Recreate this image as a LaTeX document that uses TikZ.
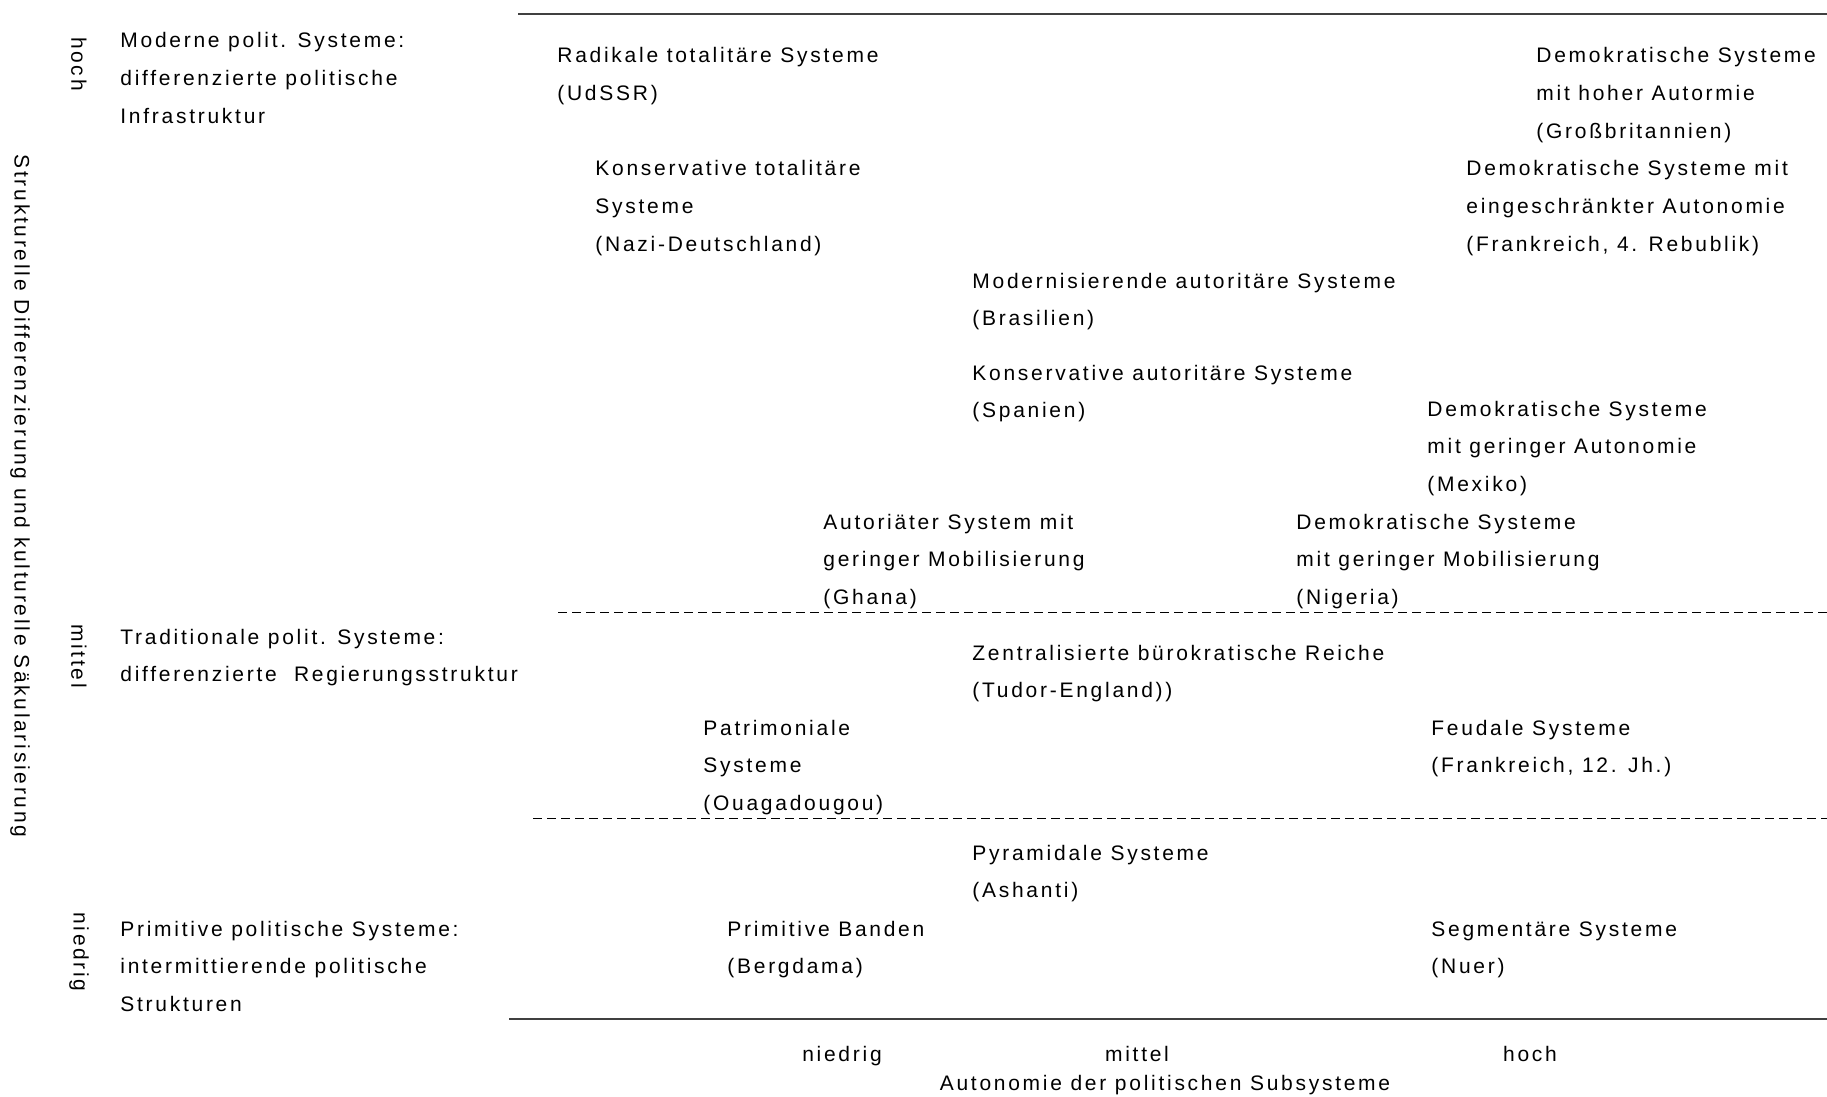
\documentclass[tikz,border=0pt]{standalone}
\usepackage{fontspec}
\setmainfont{Liberation Sans}[LetterSpace=13]
\usetikzlibrary{positioning}

\begin{document}
\begin{tikzpicture}[
    x=0.5pt, y=-0.5pt,
    font=\fontsize{10.5pt}{18.8pt}\selectfont,
    txt/.style={align=left, anchor=base west, inner sep=0pt},
    vlbl/.style={rotate=-90, inner sep=0pt},
    hlbl/.style={anchor=base, inner sep=0pt},
    axis/.style={line width=1.4pt, black!75},
    sep/.style={dash pattern=on 4.5pt off 2.5pt, line width=0.5pt},
  ]

  \useasboundingbox (0,0) rectangle (1827,1097);

  % -- frame lines
  \coordinate (top-l) at (518,14);
  \coordinate (top-r) at (1827,14);
  \coordinate (bot-l) at (509,1019);
  \coordinate (bot-r) at (1827,1019);
  \coordinate (sepA-l) at (558,612);
  \coordinate (sepA-r) at (1827,612);
  \coordinate (sepB-l) at (533,818);
  \coordinate (sepB-r) at (1827,818);
  \draw[axis] (top-l) -- (top-r);
  \draw[axis] (bot-l) -- (bot-r);
  \draw[sep] (sepA-l) -- (sepA-r);
  \draw[sep] (sepB-l) -- (sepB-r);

  % -- vertical axis (node base = last line)
  \node[vlbl] (ytitle) at (20,496)
    {Strukturelle Differenzierung und kulturelle Säkularisierung};
  \node[vlbl] (yhoch) at (79,64) {hoch};
  \node[vlbl] (ymittel) at (79,656) {mittel};
  \node[vlbl] (yniedrig) at (79,952) {niedrig};

  \node[txt] (modern) at (120,123.2)
    {Moderne polit. Systeme:\\ differenzierte politische\\ Infrastruktur};
  \node[txt] (tradit) at (120,681.6)
    {Traditionale polit. Systeme:\\ differenzierte~ Regierungsstruktur};
  \node[txt] (primit) at (120,1011.2)
    {Primitive politische Systeme:\\ intermittierende politische\\ Strukturen};

  % -- modern systems
  \node[txt] (radikal) at (557,100.6)
    {Radikale totalitäre Systeme\\ (UdSSR)};
  \node[txt] (demgb) at (1536,138.2)
    {Demokratische Systeme\\ mit hoher Autormie\\ (Großbritannien)};
  \node[txt] (konstot) at (595,251.2)
    {Konservative totalitäre\\ Systeme\\ (Nazi-Deutschland)};
  \node[txt] (demfr) at (1466,251.2)
    {Demokratische Systeme mit\\ eingeschränkter Autonomie\\ (Frankreich, 4. Rebublik)};
  \node[txt] (modaut) at (972,325.6)
    {Modernisierende autoritäre Systeme\\ (Brasilien)};
  \node[txt] (konsaut) at (972,417.6)
    {Konservative autoritäre Systeme\\ (Spanien)};
  \node[txt] (demmex) at (1427,491.2)
    {Demokratische Systeme\\ mit geringer Autonomie\\ (Mexiko)};
  \node[txt] (autmob) at (823,604.2)
    {Autoriäter System mit\\ geringer Mobilisierung\\ (Ghana)};
  \node[txt] (demnig) at (1296,604.2)
    {Demokratische Systeme\\ mit geringer Mobilisierung\\ (Nigeria)};

  % -- traditional systems
  \node[txt] (zentral) at (972,697.6)
    {Zentralisierte bürokratische Reiche\\ (Tudor-England))};
  \node[txt] (patrim) at (703,810.2)
    {Patrimoniale\\ Systeme\\ (Ouagadougou)};
  \node[txt] (feudal) at (1431,772.6)
    {Feudale Systeme\\ (Frankreich, 12. Jh.)};

  % -- primitive systems
  \node[txt] (pyram) at (972,897.6)
    {Pyramidale Systeme\\ (Ashanti)};
  \node[txt] (banden) at (727,973.6)
    {Primitive Banden\\ (Bergdama)};
  \node[txt] (segment) at (1431,973.6)
    {Segmentäre Systeme\\ (Nuer)};

  % -- horizontal axis
  \node[hlbl] (xniedrig) at (842,1061) {niedrig};
  \node[hlbl] (xmittel) at (1137,1061) {mittel};
  \node[hlbl] (xhoch) at (1530,1061) {hoch};
  \node[hlbl] (xtitle) at (1165,1090) {Autonomie der politischen Subsysteme};

\end{tikzpicture}
\end{document}
